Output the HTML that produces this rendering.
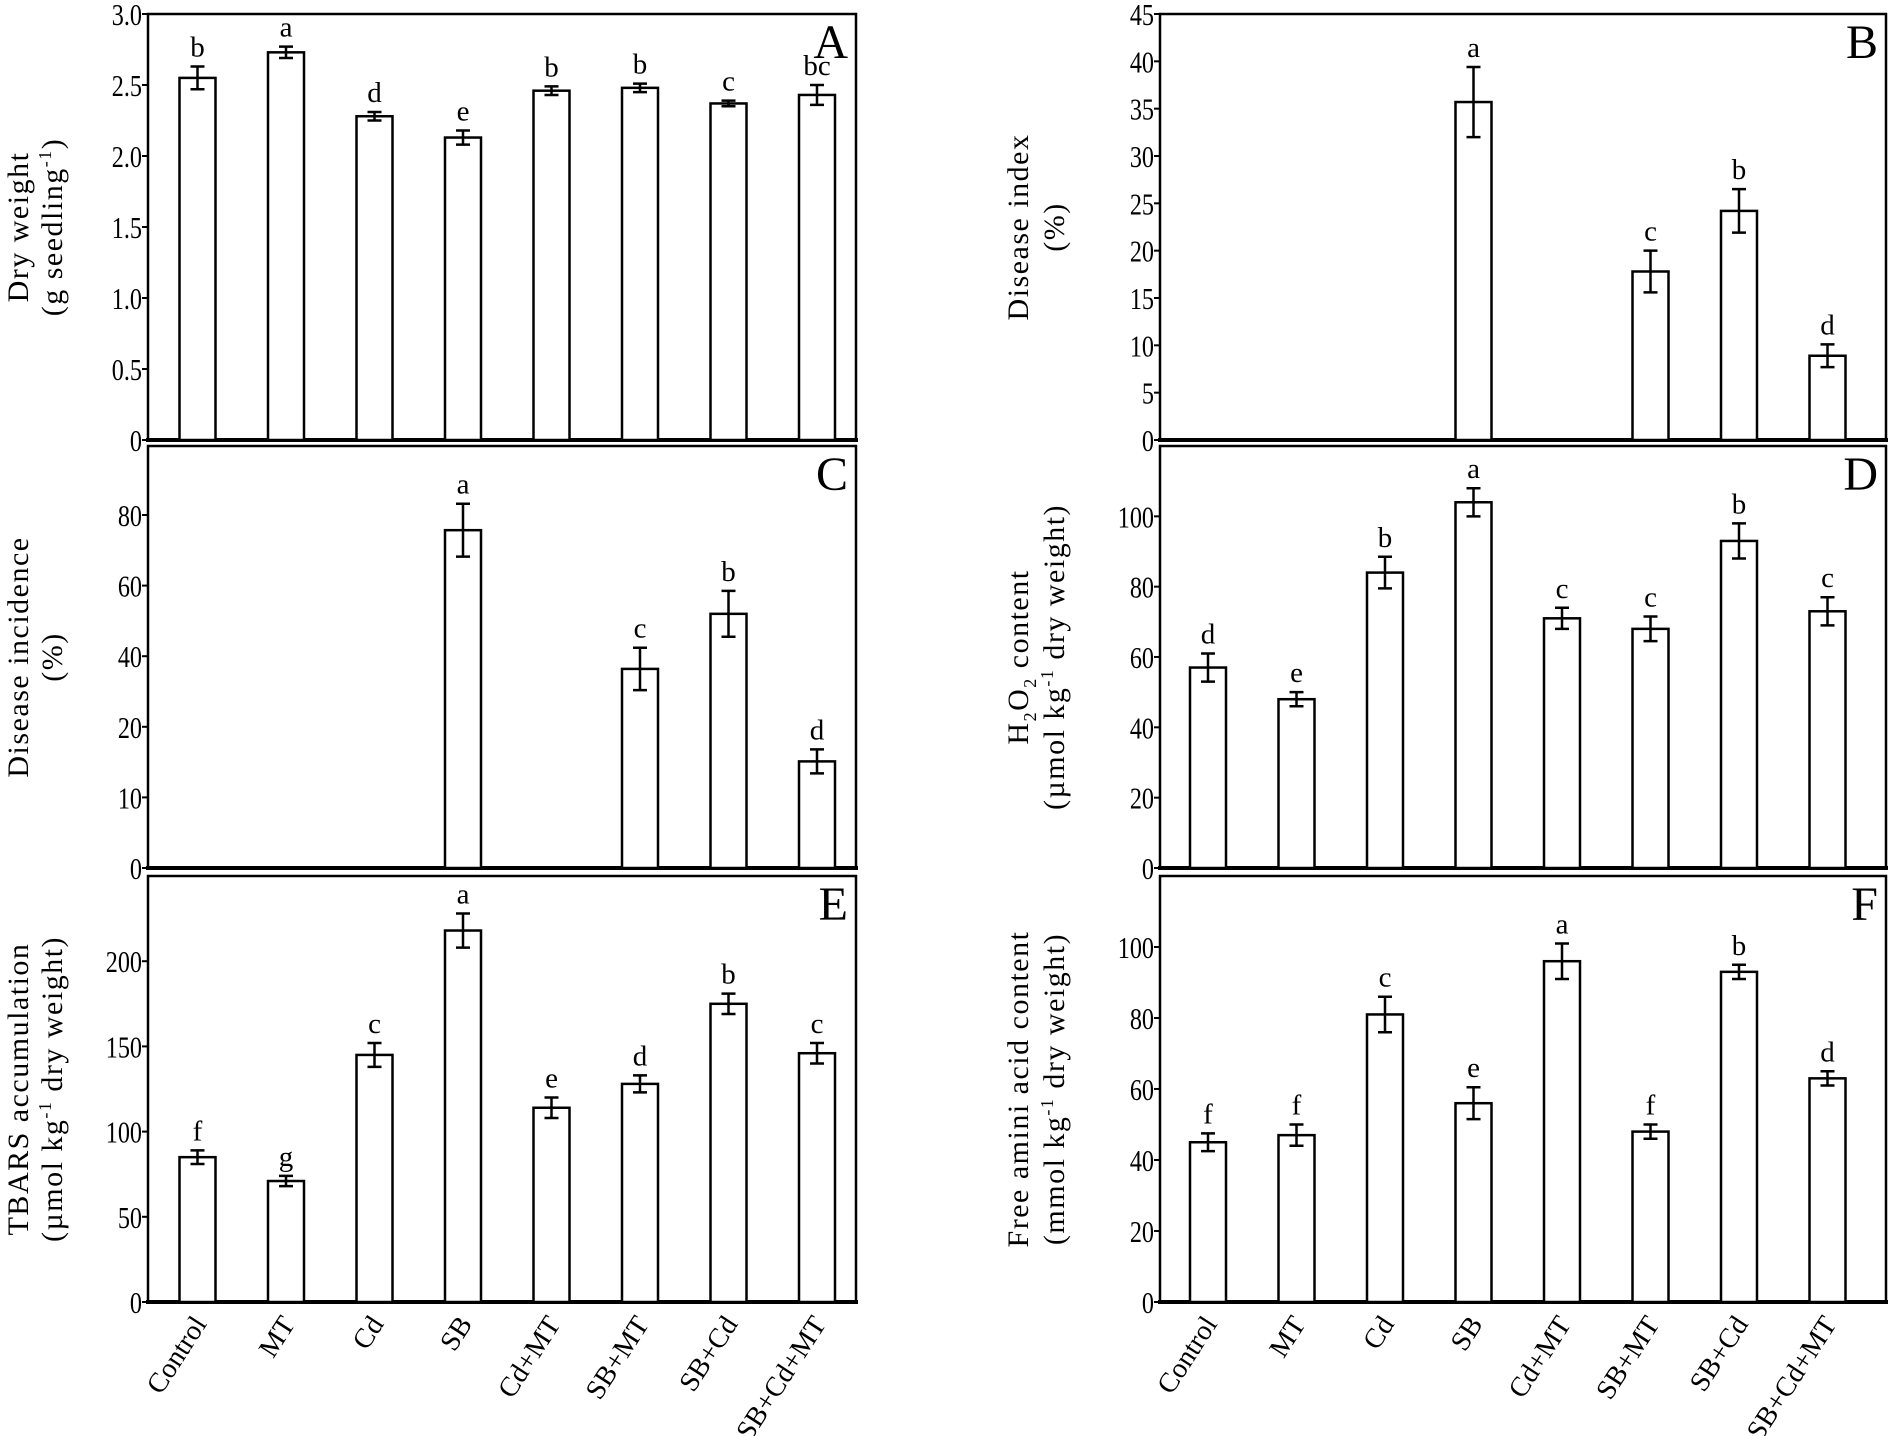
<!DOCTYPE html>
<html><head><meta charset="utf-8"><style>
html,body{margin:0;padding:0;background:#fff;}
svg{display:block;font-family:"Liberation Serif",serif;}
</style></head><body>
<svg id="fig" width="1890" height="1436" viewBox="0 0 1890 1436" xmlns="http://www.w3.org/2000/svg"></svg>
<script>
const categories = ['Control','MT','Cd','SB','Cd+MT','SB+MT','SB+Cd','SB+Cd+MT'];

const valuesA = [2.55,2.73,2.28,2.13,2.46,2.48,2.37,2.43];
const errorsA = [0.08,0.04,0.03,0.05,0.03,0.03,0.02,0.07];
const lettersA = ['b','a','d','e','b','b','c','bc'];
const ticksA = [0,0.5,1.0,1.5,2.0,2.5,3.0];
const tickLabelsA = ['0','0.5','1.0','1.5','2.0','2.5','3.0'];

const valuesB = [0,0,0,35.7,0,17.8,24.2,8.9];
const errorsB = [0,0,0,3.7,0,2.2,2.3,1.2];
const lettersB = ['','','','a','','c','b','d'];
const ticksB = [0,5,10,15,20,25,30,35,40,45];
const tickLabelsB = ['0','5','10','15','20','25','30','35','40','45'];

const valuesC = [0,0,0,75.7,0,36.4,52,15.1];
const errorsC = [0,0,0,7.5,0,6,6.5,1.7];
const lettersC = ['','','','a','','c','b','d'];
const ticksC = [0,10,20,40,60,80,100];
const tickLabelsC = ['0','10','20','40','60','80',''];

const valuesD = [57,48,84,104,71,68,93,73];
const errorsD = [4,2,4.5,4,3,3.5,5,4];
const lettersD = ['d','e','b','a','c','c','b','c'];
const ticksD = [0,20,40,60,80,100];
const tickLabelsD = ['0','20','40','60','80','100'];

const valuesE = [85,71,145,218,114,128,175,146];
const errorsE = [4,3,7,10,6,5,6,6];
const lettersE = ['f','g','c','a','e','d','b','c'];
const ticksE = [0,50,100,150,200];
const tickLabelsE = ['0','50','100','150','200'];

const valuesF = [45,47,81,56,96,48,93,63];
const errorsF = [2.5,3,5,4.5,5,2,2,2];
const lettersF = ['f','f','c','e','a','f','b','d'];
const ticksF = [0,20,40,60,80,100];
const tickLabelsF = ['0','20','40','60','80','100'];

const NS='http://www.w3.org/2000/svg';
const svg=document.getElementById('fig');
function mk(tag,attrs,parent){const e=document.createElementNS(NS,tag);for(const k in attrs)e.setAttribute(k,attrs[k]);(parent||svg).appendChild(e);return e;}

function panel(cfg){
  const g=mk('g',{});
  
  
  const {x0,x1,yTop,yBot}=cfg;
  let yS;
  if(cfg.piece){
    const t=cfg.ticks, step=(yBot-cfg.yLastTick)/(t.length-1);
    yS=v=>{for(let i=0;i<t.length-1;i++){if(v<=t[i+1]||i===t.length-2){return yBot-(i+(v-t[i])/(t[i+1]-t[i]))*step;}}return yBot;};
  } else {
    yS=v=>yBot-(v-cfg.min)/(cfg.max-cfg.min)*(yBot-yTop);
  }
  const xS=i=>x0+cfg.off+i*88.5;
  const bw=36;
  const fr=mk('rect',{x:x0,y:yTop,width:x1-x0,height:yBot-yTop,fill:'none',stroke:'#000','stroke-width':2.5},g);
  
  
  const ba=mk('line',{x1:x0-2,x2:x1+2,y1:yBot,y2:yBot,stroke:'#000','stroke-width':4},g);
  
  
  cfg.ticks.forEach((t,i)=>{
    const y=yS(t);
    if(cfg.tickLabels[i]==='')return;
    const tl=mk('line',{x1:x0-6,x2:x0,y1:y,y2:y,stroke:'#000','stroke-width':2},g);
    
    
    const tx=mk('text',{x:x0-6,y:y+11,'text-anchor':'end','font-size':31,transform:`translate(${x0-6},0) scale(0.78,1) translate(${-(x0-6)},0)`},g);
    tx.textContent=cfg.tickLabels[i];
    
    
  });
  cfg.values.forEach((v,i)=>{
    const cx=xS(i);
    if(v>0){
      const y=yS(v);
      const r=mk('rect',{x:cx-bw/2,y:y,width:bw,height:yBot-y,fill:'#fff',stroke:'#000','stroke-width':2.5},g);
      
      
      const e=cfg.errors[i];
      const yt=yS(v+e), yb=yS(v-e);
      const eb=mk('path',{d:`M${cx},${yt}V${yb}M${cx-7},${yt}H${cx+7}M${cx-7},${yb}H${cx+7}`,stroke:'#000','stroke-width':2.5,fill:'none'},g);
      
      
      if(cfg.letters[i]){
        const lt=mk('text',{x:cx,y:yt-10,'text-anchor':'middle','font-size':29},g);
        lt.textContent=cfg.letters[i];
        
        
      }
    }
  });
  const pl=mk('text',{x:x1-8,y:yTop+44,'text-anchor':'end','font-size':48},g);
  pl.textContent=cfg.id;
  
  
  const cy=(yTop+yBot)/2;
  cfg.title.forEach((ln,k)=>{
    const t=mk('text',{x:0,y:0,'text-anchor':'middle','font-size':30,'letter-spacing':1.5,transform:`translate(${cfg.tx[k]},${cy}) rotate(-90)`},g);
    t.innerHTML=ln;
    
    
  });
  if(cfg.xlabels){
    categories.forEach((c,i)=>{
      const cx=xS(i)+10;
      const t=mk('text',{x:0,y:0,'text-anchor':'end','font-size':28,transform:`translate(${cx},${yBot+22}) rotate(-57)`},g);
      t.textContent=c;
      
      
    });
  }
}
const L={x0:148,x1:856,off:49.5}, R={x0:1160,x1:1886,off:48};
const sup='<tspan font-size="18" dy="-11">-1</tspan><tspan dy="11">)</tspan>';
const sup2='<tspan font-size="18" dy="-11">-1</tspan><tspan dy="11"> dry weight)</tspan>';
panel({...L,id:'A',yTop:14,yBot:440,min:0,max:3,ticks:ticksA,tickLabels:tickLabelsA,values:valuesA,errors:errorsA,letters:lettersA,title:['Dry weight','(g seedling'+sup],tx:[28,62]});
panel({...R,id:'B',yTop:14,yBot:440,min:0,max:45,ticks:ticksB,tickLabels:tickLabelsB,values:valuesB,errors:errorsB,letters:lettersB,title:['Disease index','(%)'],tx:[1028,1064]});
panel({...L,id:'C',yTop:446,yBot:868,piece:true,yLastTick:868-6*70.6,ticks:ticksC,tickLabels:tickLabelsC,values:valuesC,errors:errorsC,letters:lettersC,title:['Disease incidence','(%)'],tx:[28,62]});
panel({...R,id:'D',yTop:446,yBot:868,min:0,max:120,ticks:ticksD,tickLabels:tickLabelsD,values:valuesD,errors:errorsD,letters:lettersD,title:['H<tspan font-size="18" dy="8">2</tspan><tspan dy="-8">O</tspan><tspan font-size="18" dy="8">2</tspan><tspan dy="-8"> content</tspan>','(µmol kg'+sup2],tx:[1028,1064]});
panel({...L,id:'E',yTop:876,yBot:1302,min:0,max:250,ticks:ticksE,tickLabels:tickLabelsE,values:valuesE,errors:errorsE,letters:lettersE,title:['TBARS accumulation','(µmol kg'+sup2],tx:[28,62],xlabels:true});
panel({...R,id:'F',yTop:876,yBot:1302,min:0,max:120,ticks:ticksF,tickLabels:tickLabelsF,values:valuesF,errors:errorsF,letters:lettersF,title:['Free amini acid content','(mmol kg'+sup2],tx:[1028,1064],xlabels:true});
</script>
</body></html>
